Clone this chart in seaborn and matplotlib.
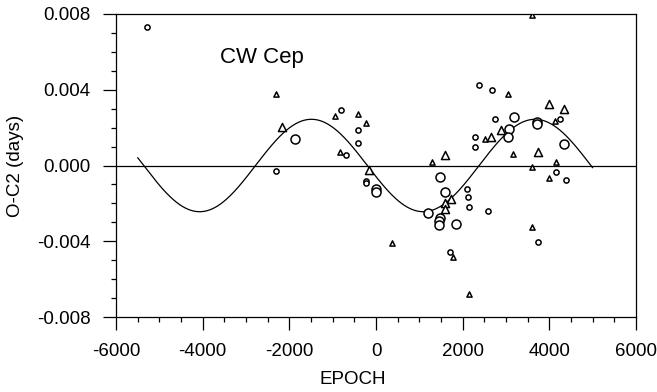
import numpy as np
import pandas as pd
import matplotlib
matplotlib.use("Agg")
import matplotlib.pyplot as plt
from matplotlib.ticker import MultipleLocator, FixedLocator
import seaborn as sns

# ---- data ----
small_circle_x = [-5278, -2308, -815, -423, -423, -685, 2377, 2670, 2285, 2285, 2754, 4239,
                  -231, -231, 2092, 2131, 2154, 1715, 4154, 4385, 2585, 3746]
small_circle_y = [0.0073, -0.00029, 0.00291, 0.00186, 0.0012, 0.00054, 0.00424, 0.0040, 0.00152,
                  0.00099, 0.00244, 0.00244, -0.00082, -0.00092, -0.00126, -0.00166, -0.00221,
                  -0.00455, -0.00036, -0.00077, -0.00239, -0.00404]

large_circle_x = [-1869, 3192, 3715, 3715, 3077, 3046, 4346, 0, 0, 1469, 1600, 1192, 1469,
                  1454, 1454, 1846]
large_circle_y = [0.0014, 0.00255, 0.00231, 0.00218, 0.00193, 0.0015, 0.00114, -0.00126, -0.00138,
                  -0.00062, -0.00138, -0.00252, -0.00276, -0.00291, -0.00314, -0.00309]

small_tri_x = [-2308, -946, -423, -223, -831, 1285, 3593, 3054, 4123, 2515, 3169, 4154,
               362, 1769, 2139, 3608, 4000, 3608]
small_tri_y = [0.00378, 0.00261, 0.0027, 0.00226, 0.00073, 0.00017, 0.00795, 0.00376, 0.00235,
               0.00138, 0.00062, 0.0002, -0.00408, -0.00485, -0.00679, -0.00006, -0.00064, -0.00326]

large_tri_x = [-2177, 1600, 4000, 4346, 2892, 2646, 3731, -169, 1731, 1600, 1600]
large_tri_y = [0.00202, 0.00055, 0.00326, 0.00297, 0.00186, 0.0015, 0.00073, -0.00024,
               -0.00177, -0.002, -0.00231]

# fitted sinusoid (light-time effect) parameters
fit_amplitude = 0.00244
fit_period = 5160.0
fit_zero_epoch = 2380.0
fit_start, fit_end = -5500, 5000

x_ticks = [-6000, -4000, -2000, 0, 2000, 4000, 6000]
x_tick_labels = ["-6000", "-4000", "-2000", "0", "2000", "4000", "6000"]
y_ticks = [-0.008, -0.004, 0.000, 0.004, 0.008]
y_tick_labels = ["-0.008", "-0.004", "0.000", "0.004", "0.008"]

title_text = "CW Cep"
x_label = "EPOCH"
y_label = "O-C2 (days)"

# ---- plotting ----
sns.set_style("white")
plt.rcParams['font.family'] = ['Liberation Sans', 'DejaVu Sans']
plt.rcParams['axes.unicode_minus'] = False
plt.rcParams['text.color'] = 'black'
plt.rcParams['axes.labelcolor'] = 'black'
plt.rcParams['xtick.color'] = 'black'
plt.rcParams['ytick.color'] = 'black'

fig = plt.figure(figsize=(6.57, 3.92), dpi=100)
ax = fig.add_axes([116 / 657, 1 - 317 / 392, 520 / 657, 303 / 392])

fit_x = np.linspace(fit_start, fit_end, 600)
fit_y = fit_amplitude * np.sin(2 * np.pi * (fit_x - fit_zero_epoch) / fit_period)
sns.lineplot(x=fit_x, y=fit_y, ax=ax, color="black", linewidth=0.9, sort=False)

ax.axhline(0, color="black", linewidth=0.9)

groups = [
    (small_circle_x, small_circle_y, "o", 14),
    (large_circle_x, large_circle_y, "o", 42),
    (small_tri_x, small_tri_y, "^", 14),
    (large_tri_x, large_tri_y, "^", 34),
]
for gx, gy, mk, sz in groups:
    sns.scatterplot(x=gx, y=gy, ax=ax, marker=mk, s=sz, facecolor="white",
                    edgecolor="black", linewidth=1.1, zorder=3)

ax.set_xlim(-6000, 6000)
ax.set_ylim(-0.008, 0.008)
ax.xaxis.set_major_locator(FixedLocator(x_ticks))
ax.set_xticklabels(x_tick_labels)
ax.xaxis.set_minor_locator(MultipleLocator(500))
ax.yaxis.set_major_locator(FixedLocator(y_ticks))
ax.set_yticklabels(y_tick_labels)
ax.yaxis.set_minor_locator(MultipleLocator(0.001))

ax.tick_params(axis="both", which="major", direction="out", length=9.5, width=0.9,
               labelsize=13.5, pad=9, color="black", labelcolor="black")
ax.tick_params(axis="both", which="minor", direction="out", length=3.3, width=0.9,
               color="black")
ax.tick_params(top=False, right=False, which="both")
ax.tick_params(axis="x", which="both", bottom=True)
ax.tick_params(axis="y", which="both", left=True)

for sp in ax.spines.values():
    sp.set_visible(True)
    sp.set_color("black")
    sp.set_linewidth(0.9)

ax.set_xlabel(x_label, fontsize=13.5, va="center", color="black")
ax.xaxis.set_label_coords((352.5 - 116) / 520, (317 - 379.5) / 303)
ax.set_ylabel(y_label, fontsize=13.5, va="center", color="black")
ax.yaxis.set_label_coords((15.5 - 116) / 520, 0.5)

ax.text(-3600, 0.00543, title_text, fontsize=16, ha="left", va="baseline", color="black")
ax.grid(False)

fig.savefig("out.png", dpi=100)
